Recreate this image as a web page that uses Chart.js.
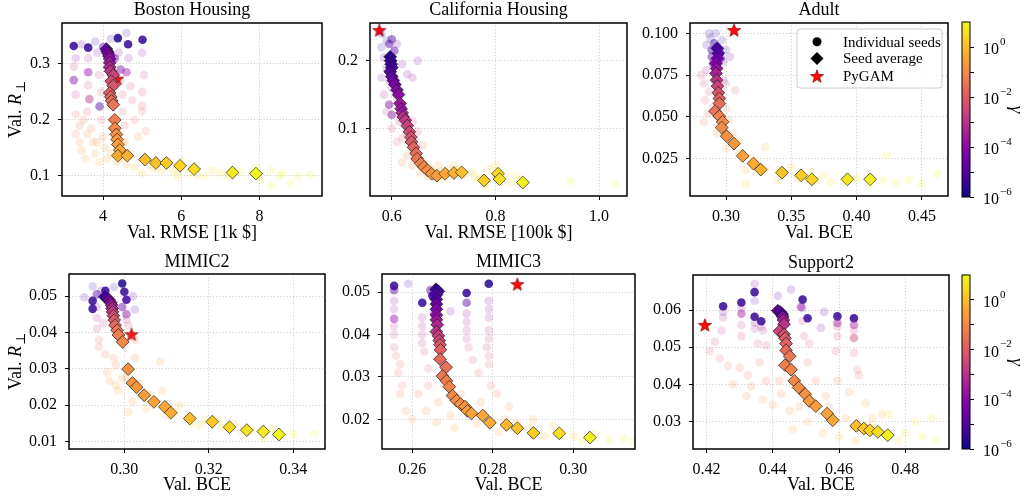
<!DOCTYPE html>
<html>
<head>
<meta charset="utf-8">
<script src="https://cdn.jsdelivr.net/npm/chart.js@4.4.1/dist/chart.umd.min.js"></script>
<style>
  body { margin: 0; background: #fff; width: 1026px; height: 496px; position: relative; overflow: hidden; }
  canvas { position: absolute; }
</style>
</head>
<body>
<canvas id="boston"></canvas>
<canvas id="california"></canvas>
<canvas id="adult"></canvas>
<canvas id="mimic2"></canvas>
<canvas id="mimic3"></canvas>
<canvas id="support2"></canvas>
<canvas id="cbTop"></canvas>
<canvas id="cbBottom"></canvas>
<script>
// ---- data: [x, y, log10(gamma)] ----

// Boston Housing
var bostonSeeds = [
  [3.3,0.31,-4],[3.25,0.295,-2.8],[3.3,0.245,-3.2],[3.3,0.21,-2],[3.3,0.175,-1.2],[3.4,0.16,-0.9],[3.45,0.145,-0.6],[3.55,0.13,-0.4],
  [3.62,0.31,-3.5],[3.62,0.262,-2.7],[3.6,0.215,-2.2],[3.7,0.185,-1.3],[3.75,0.16,-0.9],[3.8,0.14,-0.6],[3.9,0.125,-0.3],
  [3.85,0.32,-4.2],[3.9,0.28,-3],[3.95,0.25,-2.5],[3.95,0.2,-1.8],[4.0,0.17,-1.2],[4.05,0.15,-0.8],[4.1,0.13,-0.5],
  [4.4,0.32,-4.6],[4.45,0.27,-2.8],[4.5,0.245,-2.3],[4.5,0.215,-1.9],[4.55,0.19,-1.4],[4.5,0.16,-0.8],[4.45,0.13,-0.4],
  [4.65,0.31,-4.0],[4.7,0.26,-2.5],[4.75,0.235,-2.2],[4.8,0.2,-1.6],[4.9,0.17,-1.0],
  [5.0,0.32,-4.2],[5.05,0.28,-3],[5.0,0.25,-2.6],[5.0,0.225,-2.2],[5.0,0.215,-1.8],[5.1,0.18,-1.2],
  [4.8,0.115,0],[5.2,0.12,0.1],[5.5,0.11,0.2],[5.8,0.108,0.3],[6.2,0.105,0.5],[6.6,0.1,0.6],[7.0,0.105,0.7],[7.5,0.108,0.8],
  [7.9,0.115,0.9],[8.3,0.11,1],[8.3,0.082,1],[8.8,0.087,1],[9.3,0.102,1],[8.6,0.104,0.9],[6.0,0.125,0.4],[6.4,0.102,0.55],
  [3.45,0.335,-5],[3.8,0.34,-5.2],[4.6,0.355,-5.3],[4.2,0.345,-5],[3.5,0.2,-1.6],[3.6,0.175,-1.1],[3.85,0.16,-0.8],
  [4.2,0.14,-0.5],[4.35,0.125,-0.2],[4.6,0.12,-0.1],[5.0,0.105,0.1],[5.3,0.113,0.15],[5.9,0.1,0.35],[6.8,0.11,0.65],
  [7.2,0.098,0.7],[8.0,0.095,0.9],[8.5,0.1,1],[9.0,0.1,1],[3.4,0.19,-1.4],[4.25,0.2,-1.5],[4.55,0.16,-0.9]
];
var bostonSeedsDense = [
  [3.25,0.271,-4.3],[3.62,0.285,-4],[3.91,0.224,-5.2],[4.45,0.29,-4.2],[4.6,0.285,-3.5],[3.65,0.237,-3],[4.0,0.33,-4.6],[4.3,0.31,-4.5]
];
var bostonSeedsSolid = [
  [3.25,0.332,-5.5],[3.62,0.329,-5.5],[4.38,0.346,-5.8],[4.64,0.335,-5.5],[5.01,0.343,-5.5]
];
var bostonAvg = [
  [4.085,0.3265,-5.0],[4.11,0.322,-4.7],[4.13,0.319,-4.4],[4.15,0.314,-4.1],[4.17,0.309,-3.8],[4.17,0.302,-3.5],
  [4.17,0.294,-3.2],[4.19,0.287,-2.9],[4.26,0.280,-2.6],[4.21,0.269,-2.3],[4.26,0.261,-2.1],[4.17,0.248,-1.9],
  [4.20,0.241,-1.7],[4.22,0.234,-1.55],[4.26,0.227,-1.4],[4.30,0.200,-1.2],[4.30,0.185,-1.0],[4.34,0.174,-0.85],
  [4.36,0.165,-0.7],[4.38,0.156,-0.55],[4.43,0.146,-0.4],[4.38,0.136,-0.3],[4.62,0.136,-0.2],[5.07,0.129,0.0],
  [5.35,0.123,0.1],[5.62,0.123,0.25],[5.97,0.118,0.4],[6.33,0.112,0.55],[7.31,0.106,0.75],[7.91,0.104,0.95]
];
var bostonPyGAM = [4.36, 0.2735];
var bostonXRange = [2.95, 9.6], bostonYRange = [0.064, 0.373];
var bostonXTicks = ['4', '6', '8'], bostonYTicks = ['0.1', '0.2', '0.3'];

// California Housing
var californiaSeeds = [
  [0.58,0.24,-5.2],[0.59,0.23,-5.5],[0.61,0.225,-4.8],[0.585,0.205,-4.6],[0.62,0.195,-4.2],[0.63,0.18,-4],[0.65,0.2,-4.3],
  [0.64,0.175,-3.8],[0.58,0.175,-4],[0.585,0.15,-3.5],[0.59,0.125,-3],[0.6,0.1,-2.6],[0.61,0.08,-2],[0.62,0.085,-2.2],
  [0.64,0.11,-2.8],[0.65,0.095,-2.5],[0.66,0.075,-1.7],[0.63,0.06,-1.3],[0.62,0.05,-1],[0.64,0.045,-0.9],[0.655,0.035,-0.7],
  [0.67,0.028,-0.5],[0.69,0.045,-0.3],[0.71,0.04,-0.2],[0.72,0.045,-0.1],[0.74,0.03,0.1],[0.76,0.028,0.3],[0.79,0.04,0.4],
  [0.8,0.045,0.5],[0.82,0.03,0.6],[0.83,0.02,0.7],[0.85,0.025,0.8],[0.78,0.015,0.5],[0.945,0.022,1],[1.03,0.018,1],
  [0.7,0.025,-0.1],[0.61,0.145,-3.6],[0.6,0.16,-3.8],
  [0.59,0.19,-5],[0.6,0.205,-5.3],[0.58,0.22,-5.4],[0.595,0.17,-4.5],[0.615,0.11,-2.9],[0.63,0.09,-2.3],[0.645,0.06,-1.5],
  [0.66,0.05,-1.1],[0.675,0.04,-0.7],[0.68,0.032,-0.5],[0.695,0.036,-0.3],[0.73,0.04,0],[0.755,0.035,0.2],[0.77,0.025,0.3],
  [0.81,0.02,0.6],[0.84,0.03,0.75]
];
var californiaSeedsDense = [
  [0.595,0.135,-4.3],[0.6,0.12,-4],[0.595,0.225,-5],[0.605,0.215,-5],[0.6,0.232,-5.3],[0.62,0.13,-4.3]
];
var californiaSeedsSolid = [];
var californiaAvg = [
  [0.597,0.206,-5.8],[0.598,0.200,-5.6],[0.599,0.195,-5.4],[0.600,0.190,-5.2],[0.597,0.184,-5.0],[0.600,0.177,-4.8],
  [0.603,0.171,-4.6],[0.606,0.165,-4.4],[0.610,0.157,-4.2],[0.613,0.150,-4.0],[0.616,0.137,-3.6],[0.618,0.129,-3.4],
  [0.620,0.123,-3.2],[0.622,0.117,-3.0],[0.626,0.112,-2.8],[0.630,0.104,-2.6],[0.634,0.095,-2.4],[0.637,0.087,-2.2],
  [0.638,0.080,-2.0],[0.642,0.072,-1.8],[0.647,0.063,-1.6],[0.649,0.055,-1.4],[0.656,0.048,-1.2],[0.662,0.043,-1.0],
  [0.669,0.038,-0.9],[0.677,0.033,-0.8],[0.687,0.030,-0.6],[0.703,0.033,-0.4],[0.720,0.034,-0.2],[0.735,0.035,0.0],
  [0.778,0.023,0.3],[0.805,0.033,0.5],[0.808,0.025,0.6],[0.853,0.020,0.9]
];
var californiaPyGAM = [0.576, 0.2455];
var californiaXRange = [0.558, 1.054], californiaYRange = [0.0, 0.256];
var californiaXTicks = ['0.6', '0.8', '1.0'], californiaYTicks = ['0.1', '0.2'];

// Adult
var adultSeeds = [
  [0.287,0.1,-5.5],[0.288,0.097,-5.5],[0.297,0.096,-5.2],[0.3,0.09,-5],[0.303,0.086,-4.6],[0.285,0.078,-3.5],[0.281,0.075,-2.8],
  [0.283,0.07,-2.5],[0.298,0.072,-3],[0.3,0.07,-2.5],[0.307,0.066,-2],[0.284,0.06,-1.8],[0.286,0.052,-1.5],[0.283,0.047,-1.2],
  [0.3,0.055,-1.5],[0.302,0.048,-1],[0.293,0.04,-0.8],[0.3,0.031,-0.5],[0.31,0.035,-0.4],[0.33,0.032,-0.2],[0.32,0.025,-0.2],
  [0.315,0.018,0],[0.33,0.019,0.1],[0.34,0.017,0.2],[0.35,0.02,0.3],[0.36,0.014,0.4],[0.37,0.012,0.5],[0.375,0.015,0.5],
  [0.38,0.011,0.6],[0.4,0.013,0.7],[0.41,0.01,0.8],[0.42,0.012,0.85],[0.423,0.027,0.9],[0.43,0.011,0.9],[0.45,0.01,1],
  [0.462,0.016,1],[0.315,0.01,0.2],
  [0.285,0.093,-5.3],[0.292,0.1,-5.5],[0.298,0.083,-4.3],[0.287,0.065,-2.2],[0.296,0.066,-2.3],[0.29,0.056,-1.7],
  [0.296,0.045,-1],[0.305,0.04,-0.7],[0.31,0.028,-0.45],[0.322,0.02,-0.2],[0.34,0.012,0.2],[0.355,0.013,0.35],
  [0.365,0.017,0.45],[0.39,0.011,0.65],[0.44,0.012,0.95]
];
var adultSeedsDense = [
  [0.289,0.09,-5.3],[0.291,0.094,-5.5],[0.293,0.092,-5],[0.295,0.089,-4.8],[0.289,0.086,-4.5],[0.296,0.085,-4.6],[0.29,0.082,-4.2]
];
var adultSeedsSolid = [];
var adultAvg = [
  [0.2934,0.091,-5.3],[0.2941,0.088,-5.0],[0.2934,0.085,-4.6],[0.2923,0.082,-4.2],[0.2928,0.079,-3.8],[0.2923,0.076,-3.4],
  [0.2928,0.072,-3.0],[0.2934,0.0684,-2.6],[0.2941,0.0644,-2.2],[0.2949,0.061,-1.9],[0.2949,0.058,-1.6],[0.2916,0.0534,-1.4],
  [0.2949,0.0504,-1.2],[0.2974,0.047,-1.0],[0.2967,0.0436,-0.9],[0.3005,0.0384,-0.8],[0.3061,0.034,-0.7],[0.3128,0.0266,-0.5],
  [0.3210,0.022,-0.3],[0.3266,0.0184,-0.2],[0.3429,0.0166,0.1],[0.3575,0.015,0.3],[0.3657,0.0126,0.4],[0.3930,0.0126,0.7],
  [0.4104,0.0126,0.9]
];
var adultPyGAM = [0.3061, 0.102];
var adultXRange = [0.2724, 0.470], adultYRange = [0.0026, 0.1062];
var adultXTicks = ['0.30', '0.35', '0.40', '0.45'], adultYTicks = ['0.025', '0.050', '0.075', '0.100'];

// MIMIC2
var mimic2Seeds = [
  [0.2905,0.0497,-5],[0.2925,0.0527,-5.2],[0.3025,0.0463,-5],[0.2935,0.044,-3.2],[0.2935,0.041,-2.5],[0.294,0.038,-1.8],
  [0.294,0.036,-1.5],[0.2955,0.034,-1.2],[0.301,0.042,-2.5],[0.3015,0.039,-2],[0.3025,0.038,-1.5],[0.3025,0.033,-1],
  [0.3085,0.032,-0.8],[0.298,0.031,-1],[0.2965,0.0265,-0.7],[0.298,0.0255,-0.6],[0.2985,0.024,-0.5],[0.302,0.021,-0.4],
  [0.301,0.018,-0.3],[0.305,0.019,-0.2],[0.306,0.023,-0.4],[0.309,0.024,-0.3],[0.31,0.017,-0.1],[0.313,0.02,0],
  [0.316,0.015,0.2],[0.319,0.016,0.3],[0.323,0.014,0.4],[0.326,0.015,0.5],[0.33,0.013,0.6],[0.333,0.011,0.7],
  [0.337,0.012,0.8],[0.34,0.012,0.9],[0.345,0.0123,1],[0.296,0.029,-0.9],[0.2995,0.0275,-0.8],
  [0.2945,0.0515,-5],[0.2975,0.0525,-5.3],[0.302,0.05,-5],[0.2935,0.047,-4],[0.295,0.0425,-2.8],[0.3005,0.0435,-3],
  [0.3,0.0365,-1.2],[0.2975,0.033,-1.1],[0.3005,0.0275,-0.8],[0.3035,0.026,-0.7],[0.307,0.02,-0.4],[0.312,0.018,-0.2],
  [0.318,0.0145,0.2],[0.322,0.016,0.35],[0.328,0.0125,0.55],[0.335,0.0135,0.85]
];
var mimic2SeedsDense = [[0.3005,0.045,-4],[0.2995,0.047,-4.5],[0.2935,0.0505,-5]];
var mimic2SeedsSolid = [
  [0.2925,0.0465,-5.5],[0.2925,0.0487,-5.5],[0.2955,0.0515,-5.5],[0.2995,0.0535,-5.8],[0.3,0.0512,-5.5],[0.3005,0.049,-5.3]
];
var mimic2Avg = [
  [0.2954,0.0498,-5.5],[0.2960,0.0494,-5.0],[0.2964,0.0489,-4.5],[0.2968,0.0482,-4.0],[0.2970,0.0475,-3.6],[0.2971,0.0466,-3.2],
  [0.2972,0.0457,-2.8],[0.2974,0.0446,-2.4],[0.2976,0.0434,-2.0],[0.2978,0.0420,-1.7],[0.2983,0.0406,-1.4],[0.2986,0.0393,-1.2],
  [0.2996,0.0374,-1.0],[0.3009,0.0299,-0.9],[0.3019,0.0261,-0.8],[0.3029,0.0249,-0.7],[0.3047,0.0227,-0.6],[0.3070,0.0209,-0.5],
  [0.3096,0.0195,-0.4],[0.3110,0.0179,-0.3],[0.3155,0.0163,0.0],[0.3208,0.0154,0.2],[0.3249,0.0139,0.4],[0.3290,0.0131,0.6],
  [0.3329,0.0127,0.8],[0.3366,0.0119,1.0]
];
var mimic2PyGAM = [0.3017, 0.0395];
var mimic2XRange = [0.2869, 0.3475], mimic2YRange = [0.0079, 0.0561];
var mimic2XTicks = ['0.30', '0.32', '0.34'], mimic2YTicks = ['0.01', '0.02', '0.03', '0.04', '0.05'];

// MIMIC3
var mimic3Seeds = [
  [0.259,0.052,-5.2],[0.2555,0.048,-4],[0.2555,0.046,-3.5],[0.2555,0.04,-2.8],[0.2555,0.037,-2.3],[0.256,0.035,-2],
  [0.2565,0.031,-1.5],[0.2575,0.028,-1.2],[0.257,0.026,-1.1],[0.2585,0.022,-0.8],[0.2625,0.044,-3.5],[0.2625,0.04,-3],
  [0.263,0.036,-2.5],[0.264,0.032,-2],[0.264,0.028,-1.5],[0.2665,0.024,-1],[0.2735,0.045,-4],[0.2735,0.041,-3.2],
  [0.274,0.037,-2.6],[0.275,0.034,-2.2],[0.2765,0.031,-1.8],[0.279,0.048,-4.5],[0.279,0.044,-3.5],[0.279,0.041,-3],
  [0.2785,0.037,-2.5],[0.279,0.033,-2],[0.2795,0.028,-1.5],[0.281,0.026,-1.2],[0.284,0.023,-0.9],[0.2695,0.021,-0.8],
  [0.2705,0.018,-0.5],[0.276,0.019,-0.4],[0.2815,0.017,-0.2],[0.286,0.019,-0.2],[0.29,0.02,-0.3],[0.293,0.016,0],
  [0.297,0.017,0.3],[0.3,0.016,0.5],[0.305,0.0165,0.6],[0.309,0.0152,0.8],[0.3125,0.0155,0.9],[0.315,0.0148,1],
  [0.2695,0.0455,-4.5],[0.26,0.02,-0.6],[0.266,0.0193,-0.6],
  [0.2555,0.042,-3.2],[0.2625,0.042,-3.3],[0.2625,0.038,-2.8],[0.2735,0.043,-3.5],[0.2735,0.039,-3],[0.279,0.046,-4],
  [0.279,0.039,-2.8],[0.279,0.035,-2.2],[0.2615,0.026,-1.2],[0.2635,0.022,-0.9],[0.268,0.028,-1.3],[0.272,0.026,-1.1],
  [0.277,0.024,-0.8],[0.283,0.02,-0.4],[0.289,0.018,-0.1],[0.295,0.0185,0.1],[0.302,0.015,0.6],[0.257,0.033,-1.8]
];
var mimic3SeedsDense = [[0.2555,0.0505,-5],[0.2735,0.0475,-5],[0.2645,0.0505,-5],[0.2555,0.0437,-3.8],[0.2655,0.045,-4.2]];
var mimic3SeedsSolid = [[0.2555,0.0515,-5.5],[0.2625,0.0475,-5.5],[0.2735,0.0498,-5.5],[0.279,0.052,-5.7],[0.265,0.0492,-5.3]];
var mimic3Avg = [
  [0.2659,0.0507,-5.7],[0.2665,0.0502,-5.4],[0.2660,0.0494,-5.1],[0.2660,0.0483,-4.8],[0.2660,0.0472,-4.5],[0.2660,0.0460,-4.2],
  [0.2660,0.0446,-3.9],[0.2660,0.0435,-3.6],[0.2662,0.0423,-3.3],[0.2660,0.0407,-3.0],[0.2665,0.0397,-2.7],[0.2667,0.0386,-2.4],
  [0.2669,0.0376,-2.1],[0.2670,0.0364,-1.9],[0.2669,0.0342,-1.7],[0.2684,0.0323,-1.5],[0.2675,0.0302,-1.3],[0.2685,0.0291,-1.2],
  [0.2692,0.0277,-1.1],[0.2700,0.0256,-1.0],[0.2710,0.0244,-0.9],[0.2720,0.0236,-0.8],[0.2731,0.0230,-0.7],[0.2737,0.0220,-0.6],
  [0.2747,0.0214,-0.5],[0.2775,0.0209,-0.4],[0.2793,0.0192,-0.3],[0.2834,0.0187,-0.1],[0.2861,0.0179,0.1],[0.2901,0.0168,0.3],
  [0.2965,0.0167,0.6],[0.3041,0.0157,0.9]
];
var mimic3PyGAM = [0.2861, 0.0519];
var mimic3XRange = [0.2525, 0.3153], mimic3YRange = [0.013, 0.0543];
var mimic3XTicks = ['0.26', '0.28', '0.30'], mimic3YTicks = ['0.02', '0.03', '0.04', '0.05'];

// Support2
var support2Seeds = [
  [0.4415,0.0638,-5],[0.4555,0.0595,-5],[0.4545,0.0552,-4.5],[0.4345,0.067,-4.5],[0.4455,0.0655,-4.5],[0.425,0.058,-3.5],
  [0.4245,0.0545,-3],[0.4225,0.0515,-2.5],[0.421,0.049,-2],[0.4305,0.056,-3],[0.4305,0.053,-2.6],[0.4345,0.055,-3],
  [0.4355,0.051,-2.6],[0.437,0.0545,-3],[0.438,0.0505,-2.4],[0.449,0.057,-3],[0.4495,0.053,-2.6],[0.451,0.051,-2.3],
  [0.4595,0.053,-2.6],[0.459,0.049,-2.2],[0.4645,0.0485,-2.2],[0.4655,0.044,-1.8],[0.466,0.0425,-1.6],[0.4265,0.045,-1.5],
  [0.428,0.04,-1.2],[0.432,0.037,-1.0],[0.4325,0.0425,-1.4],[0.436,0.046,-1.7],[0.438,0.041,-1.5],[0.44,0.0345,-0.8],
  [0.445,0.033,-0.7],[0.4505,0.046,-1.8],[0.453,0.041,-1.4],[0.456,0.037,-1.1],[0.4595,0.041,-1.3],[0.463,0.038,-1.0],
  [0.468,0.035,-0.6],[0.473,0.032,-0.4],[0.4505,0.03,-0.5],[0.455,0.027,-0.3],[0.46,0.026,-0.1],[0.465,0.025,0],
  [0.47,0.029,0.1],[0.475,0.032,0.3],[0.48,0.027,0.5],[0.483,0.03,0.6],[0.488,0.031,0.8],[0.489,0.025,1],[0.478,0.025,0.7],
  [0.446,0.028,-0.3],[0.442,0.041,-1.3],
  [0.425,0.0595,-4.5],[0.4305,0.0605,-4.5],[0.4345,0.0625,-4.5],[0.4345,0.0565,-4],[0.4365,0.0555,-3.8],[0.449,0.0605,-4.3],
  [0.4595,0.0555,-3],[0.4645,0.0545,-3],[0.424,0.047,-1.8],[0.43,0.0445,-1.6],[0.4335,0.0395,-1.2],[0.437,0.036,-0.9],
  [0.4425,0.0375,-1],[0.448,0.034,-0.7],[0.457,0.034,-0.8],[0.462,0.031,-0.5],[0.47,0.031,-0.2],[0.485,0.026,0.8]
];
var support2SeedsDense = [[0.4485,0.0608,-4],[0.4595,0.0565,-3.5],[0.4645,0.056,-3.5],[0.4645,0.0525,-2.5],[0.4305,0.059,-3.5]];
var support2SeedsSolid = [
  [0.425,0.061,-5.5],[0.4305,0.062,-5.5],[0.4345,0.0648,-5.5],[0.4345,0.0582,-5.5],[0.4365,0.057,-5.5],[0.449,0.0628,-5.5],
  [0.4505,0.0578,-5.5],[0.4595,0.0583,-5.5],[0.4645,0.0578,-5.5]
];
var support2Avg = [
  [0.4415,0.0598,-4.5],[0.4422,0.0595,-4.8],[0.4428,0.0589,-5.2],[0.4430,0.0582,-4.0],[0.4432,0.0573,-3.5],[0.4434,0.0562,-3.0],
  [0.4420,0.0543,-2.6],[0.4434,0.0535,-2.3],[0.4437,0.0524,-2.0],[0.4440,0.0510,-1.8],[0.4440,0.0492,-1.6],[0.4451,0.0476,-1.4],
  [0.4437,0.0452,-1.2],[0.4455,0.0440,-1.1],[0.4465,0.0410,-1.0],[0.4478,0.0392,-0.9],[0.4498,0.0374,-0.8],[0.4510,0.0356,-0.7],
  [0.4530,0.0342,-0.6],[0.4564,0.0322,-0.5],[0.4581,0.0304,-0.4],[0.4652,0.0289,0.0],[0.4675,0.0282,0.2],[0.4693,0.0277,0.4],
  [0.4717,0.0273,0.6],[0.4747,0.0264,0.9]
];
var support2PyGAM = [0.4195, 0.0560];
var support2XRange = [0.4159, 0.4932], support2YRange = [0.0227, 0.0694];
var support2XTicks = ['0.42', '0.44', '0.46', '0.48'], support2YTicks = ['0.03', '0.04', '0.05', '0.06'];

// colour bar (log10 gamma)
var gammaLogRange = [-6, 1];
var colorbarTickExps = [0, -1, -2, -3, -4, -5, -6];
var colorbarLabelExps = [0, -2, -4, -6];
var legendLabels = ['Individual seeds', 'Seed average', 'PyGAM'];

// ---- styling helpers ----
var SERIF = "'Liberation Serif', 'DejaVu Serif', 'Times New Roman', serif";
var GRID = '#c4c4c4';
var PLASMA = ['#0d0887', '#41049d', '#6a00a8', '#8f0da4', '#b12a90', '#cc4778', '#e16462', '#f2844b', '#fca636', '#fcce25', '#f0f921'];

function hexRgb(h) {
	return [parseInt(h.substr(1, 2), 16), parseInt(h.substr(3, 2), 16), parseInt(h.substr(5, 2), 16)];
}
var PLASMA_RGB = PLASMA.map(hexRgb);

function plasma(t, a) {
	t = Math.max(0, Math.min(1, t));
	var f = t * (PLASMA_RGB.length - 1);
	var i = Math.min(Math.floor(f), PLASMA_RGB.length - 2);
	var k = f - i, c0 = PLASMA_RGB[i], c1 = PLASMA_RGB[i + 1];
	var c = [0, 1, 2].map(function (j) { return Math.round(c0[j] + (c1[j] - c0[j]) * k); });
	return 'rgba(' + c[0] + ',' + c[1] + ',' + c[2] + ',' + a + ')';
}

function gNorm(lg) {
	return (lg - gammaLogRange[0]) / (gammaLogRange[1] - gammaLogRange[0]);
}

// red star marker (matplotlib '*')
function makeStar(r) {
	var c = document.createElement('canvas');
	var s = Math.ceil(r * 2 + 4);
	c.width = s; c.height = s;
	var g = c.getContext('2d');
	g.translate(s / 2, s / 2 + 0.7);
	g.beginPath();
	for (var i = 0; i < 10; i++) {
		var rr = i % 2 ? r * 0.42 : r;
		var a = -Math.PI / 2 + i * Math.PI / 5;
		g.lineTo(Math.cos(a) * rr, Math.sin(a) * rr);
	}
	g.closePath();
	g.fillStyle = '#ff0a0a';
	g.fill();
	g.lineWidth = 0.6;
	g.strokeStyle = '#6a0000';
	g.stroke();
	return c;
}
var STAR = makeStar(7);

// ---- plugins ----
var framePlugin = {
	id: 'frame',
	afterDraw: function (chart) {
		var a = chart.chartArea, ctx = chart.ctx;
		ctx.save();
		ctx.lineWidth = 1.5;
		ctx.strokeStyle = '#000';
		ctx.strokeRect(a.left, a.top, a.right - a.left, a.bottom - a.top);
		ctx.restore();
	}
};

// "Val. R⊥" with italic R and subscript
var yTitlePlugin = {
	id: 'yTitle',
	afterDraw: function (chart, args, opts) {
		if (!opts.show) return;
		var a = chart.chartArea, ctx = chart.ctx;
		var f1 = '18px ' + SERIF, f2 = 'italic 18px ' + SERIF, f3 = '13px ' + SERIF;
		ctx.save();
		ctx.translate(a.left - opts.offset, (a.top + a.bottom) / 2);
		ctx.rotate(-Math.PI / 2);
		ctx.fillStyle = '#000';
		ctx.textBaseline = 'alphabetic';
		ctx.font = f1; var w1 = ctx.measureText('Val. ').width;
		ctx.font = f2; var w2 = ctx.measureText('R').width;
		ctx.font = f3; var w3 = ctx.measureText('\u22A5').width;
		var x = -(w1 + w2 + 1 + w3) / 2, base = 6;
		ctx.font = f1; ctx.fillText('Val. ', x, base);
		ctx.font = f2; ctx.fillText('R', x + w1, base);
		ctx.font = f3; ctx.fillText('\u22A5', x + w1 + w2 + 1, base + 4);
		ctx.restore();
	}
};

// legend box inside the Adult panel
var boxLegendPlugin = {
	id: 'boxLegend',
	afterDatasetsDraw: function (chart, args, opts) {
		if (!opts.show) return;
		var a = chart.chartArea, ctx = chart.ctx;
		var w = 145, h = 59;
		var x0 = a.right - 6 - w, y0 = a.top + 6;
		ctx.save();
		ctx.beginPath();
		ctx.roundRect(x0, y0, w, h, 3);
		ctx.fillStyle = 'rgba(255,255,255,0.85)';
		ctx.fill();
		ctx.lineWidth = 1;
		ctx.strokeStyle = '#cccccc';
		ctx.stroke();
		var mx = x0 + 20, tx = x0 + 46;
		var rows = [y0 + 12.7, y0 + 29.5, y0 + 47];
		ctx.fillStyle = '#000';
		ctx.beginPath(); ctx.arc(mx, rows[0], 4.5, 0, Math.PI * 2); ctx.fill();
		ctx.beginPath();
		ctx.moveTo(mx, rows[1] - 6.5); ctx.lineTo(mx + 6.5, rows[1]); ctx.lineTo(mx, rows[1] + 6.5); ctx.lineTo(mx - 6.5, rows[1]);
		ctx.closePath(); ctx.fill();
		ctx.drawImage(STAR, mx - STAR.width / 2, rows[2] - STAR.height / 2);
		ctx.font = '15px ' + SERIF;
		ctx.textBaseline = 'middle';
		legendLabels.forEach(function (t, i) { ctx.fillText(t, tx, rows[i] + 1); });
		ctx.restore();
	}
};

// ---- panels ----
var panels = [
	{ id: 'boston', title: 'Boston Housing', xTitle: 'Val. RMSE [1k $]', yTitle: true, yTitleOffset: 47,
	  seeds: bostonSeeds, dense: bostonSeedsDense, solid: bostonSeedsSolid, avg: bostonAvg, pygam: bostonPyGAM,
	  xr: bostonXRange, yr: bostonYRange, xt: bostonXTicks, yt: bostonYTicks,
	  canvas: [0, 0, 350, 245], area: [62, 23, 322, 196], titleY: 9.5 },
	{ id: 'california', title: 'California Housing', xTitle: 'Val. RMSE [100k $]',
	  seeds: californiaSeeds, dense: californiaSeedsDense, solid: californiaSeedsSolid, avg: californiaAvg, pygam: californiaPyGAM,
	  xr: californiaXRange, yr: californiaYRange, xt: californiaXTicks, yt: californiaYTicks,
	  canvas: [320, 0, 335, 245], area: [370, 23, 627, 196], titleY: 9.5 },
	{ id: 'adult', title: 'Adult', xTitle: 'Val. BCE', legend: true,
	  seeds: adultSeeds, dense: adultSeedsDense, solid: adultSeedsSolid, avg: adultAvg, pygam: adultPyGAM,
	  xr: adultXRange, yr: adultYRange, xt: adultXTicks, yt: adultYTicks,
	  canvas: [635, 0, 335, 245], area: [690, 23, 948, 196], titleY: 9.5 },
	{ id: 'mimic2', title: 'MIMIC2', xTitle: 'Val. BCE', yTitle: true, yTitleOffset: 54,
	  seeds: mimic2Seeds, dense: mimic2SeedsDense, solid: mimic2SeedsSolid, avg: mimic2Avg, pygam: mimic2PyGAM,
	  xr: mimic2XRange, yr: mimic2YRange, xt: mimic2XTicks, yt: mimic2YTicks,
	  canvas: [0, 250, 353, 246], area: [69, 274, 325, 449], titleY: 262.3 },
	{ id: 'mimic3', title: 'MIMIC3', xTitle: 'Val. BCE',
	  seeds: mimic3Seeds, dense: mimic3SeedsDense, solid: mimic3SeedsSolid, avg: mimic3Avg, pygam: mimic3PyGAM,
	  xr: mimic3XRange, yr: mimic3YRange, xt: mimic3XTicks, yt: mimic3YTicks,
	  canvas: [330, 250, 333, 246], area: [382, 274, 635, 449], titleY: 262.3 },
	{ id: 'support2', title: 'Support2', xTitle: 'Val. BCE',
	  seeds: support2Seeds, dense: support2SeedsDense, solid: support2SeedsSolid, avg: support2Avg, pygam: support2PyGAM,
	  xr: support2XRange, yr: support2YRange, xt: support2XTicks, yt: support2YTicks,
	  canvas: [635, 250, 334, 246], area: [693, 275, 949, 449], titleY: 263 }
];

function placeCanvas(id, box) {
	var cv = document.getElementById(id);
	cv.width = box[2]; cv.height = box[3];
	cv.style.left = box[0] + 'px'; cv.style.top = box[1] + 'px';
	return cv;
}

function buildPanel(p) {
	var cv = placeCanvas(p.id, p.canvas);
	var cl = p.canvas[0], ct = p.canvas[1], cw = p.canvas[2], ch = p.canvas[3];
	var al = p.area[0], at = p.area[1], ar = p.area[2], ab = p.area[3];
	var lh = 18 * 1.1;
	var tTop = Math.max(0, p.titleY - ct - lh / 2);
	var tBottom = (at - ct) - lh - tTop;
	// x-axis label sits about 37px below the axis line
	var xTitleBottom = Math.max(0, (ct + ch) - ab - 37 - 18 * 1.2 / 2);
	var tickFont = { family: SERIF, size: 16 };

	var pts = function (arr) { return arr.map(function (d) { return { x: d[0], y: d[1] }; }); };
	var cols = function (arr, alpha) { return arr.map(function (d) { return plasma(gNorm(d[2]), alpha); }); };
	var seedSet = function (arr, alpha) {
		return { data: pts(arr), pointBackgroundColor: cols(arr, alpha), pointRadius: 4.3, pointBorderWidth: 0 };
	};

	new Chart(cv, {
		type: 'scatter',
		data: {
			datasets: [
				seedSet(p.seeds, 0.17),
				seedSet(p.dense, 0.45),
				seedSet(p.solid, 0.85),
				{
					data: pts(p.avg), pointStyle: 'rectRot', pointRadius: 6.4,
					pointBackgroundColor: cols(p.avg, 1), pointBorderColor: 'rgba(25,25,25,0.9)', pointBorderWidth: 0.8
				},
				{ data: [{ x: p.pygam[0], y: p.pygam[1] }], pointStyle: STAR, pointRadius: 7 }
			]
		},
		options: {
			responsive: false,
			animation: false,
			events: [],
			layout: { padding: { left: 0, right: (cl + cw) - ar, top: 0, bottom: 0 }, autoPadding: false },
			plugins: {
				legend: { display: false },
				tooltip: { enabled: false },
				title: {
					display: true, fullSize: false, text: p.title, color: '#000',
					font: { family: SERIF, size: 18, weight: 'normal', lineHeight: 1.1 },
					padding: { top: tTop, bottom: tBottom }
				},
				yTitle: { show: !!p.yTitle, offset: p.yTitleOffset || 0 },
				boxLegend: { show: !!p.legend }
			},
			scales: {
				x: {
					type: 'linear', min: p.xr[0], max: p.xr[1],
					afterBuildTicks: function (s) { s.ticks = p.xt.map(function (v) { return { value: parseFloat(v) }; }); },
					afterFit: function (s) { s.height = (ct + ch) - ab; },
					ticks: { font: tickFont, color: '#000', padding: 7, maxRotation: 0, autoSkip: false,
						callback: function (v, i) { return p.xt[i]; } },
					grid: { color: GRID, lineWidth: 0.8, tickLength: 4, tickColor: '#000', tickWidth: 1 },
					border: { display: false, dash: [1.2, 2] },
					title: { display: true, text: p.xTitle, color: '#000',
						font: { family: SERIF, size: 18, lineHeight: 1.2 }, padding: { top: 0, bottom: xTitleBottom } }
				},
				y: {
					type: 'linear', min: p.yr[0], max: p.yr[1],
					afterBuildTicks: function (s) { s.ticks = p.yt.map(function (v) { return { value: parseFloat(v) }; }); },
					afterFit: function (s) { s.width = al - cl; },
					ticks: { font: tickFont, color: '#000', padding: 8, autoSkip: false,
						callback: function (v, i) { return p.yt[i]; } },
					grid: { color: GRID, lineWidth: 0.8, tickLength: 4, tickColor: '#000', tickWidth: 1 },
					border: { display: false, dash: [1.2, 2] }
				}
			}
		},
		plugins: [framePlugin, yTitlePlugin, boxLegendPlugin]
	});
}

panels.forEach(buildPanel);

// ---- colour bars ----
var colorbarPlugin = {
	id: 'colorbar',
	beforeDraw: function (chart) {
		var a = chart.chartArea, ctx = chart.ctx, sc = chart.scales.y;
		var g = ctx.createLinearGradient(0, a.bottom, 0, a.top);
		for (var k = 0; k <= 40; k++) {
			var t = k / 40;
			var lg = gammaLogRange[0] + t * (gammaLogRange[1] - gammaLogRange[0]);
			var y = sc.getPixelForValue(Math.pow(10, lg));
			g.addColorStop(Math.max(0, Math.min(1, (a.bottom - y) / (a.bottom - a.top))), plasma(t, 1));
		}
		ctx.save();
		ctx.fillStyle = g;
		ctx.fillRect(a.left, a.top, a.right - a.left, a.bottom - a.top);
		ctx.restore();
	},
	afterDraw: function (chart) {
		var a = chart.chartArea, ctx = chart.ctx, sc = chart.scales.y;
		ctx.save();
		ctx.lineWidth = 1;
		ctx.strokeStyle = '#000';
		ctx.strokeRect(a.left, a.top, a.right - a.left, a.bottom - a.top);
		ctx.fillStyle = '#000';
		ctx.textBaseline = 'middle';
		colorbarLabelExps.forEach(function (e) {
			var y = sc.getPixelForValue(Math.pow(10, e));
			var x = a.right + 13;
			ctx.font = '16px ' + SERIF;
			ctx.fillText('10', x, y + 3);
			var w = ctx.measureText('10').width;
			ctx.font = '11px ' + SERIF;
			ctx.fillText(e === 0 ? '0' : '\u2212' + (-e), x + w + 1, y - 5);
		});
		ctx.translate(a.right + 46, (a.top + a.bottom) / 2);
		ctx.rotate(Math.PI / 2);
		ctx.font = 'italic 19px ' + SERIF;
		ctx.textAlign = 'center';
		ctx.fillText('\u03B3', 0, 0);
		ctx.restore();
	}
};

function buildColorbar(id, box, area) {
	var cv = placeCanvas(id, box);
	var cl = box[0], ct = box[1], cw = box[2], ch = box[3];
	new Chart(cv, {
		type: 'scatter',
		data: { datasets: [] },
		options: {
			responsive: false,
			animation: false,
			events: [],
			layout: { padding: { left: area[0] - cl, right: 0, top: area[1] - ct, bottom: (ct + ch) - area[3] }, autoPadding: false },
			plugins: { legend: { display: false }, tooltip: { enabled: false } },
			scales: {
				x: { display: false, min: 0, max: 1 },
				y: {
					type: 'logarithmic', position: 'right',
					min: Math.pow(10, gammaLogRange[0]), max: Math.pow(10, gammaLogRange[1]),
					afterBuildTicks: function (s) { s.ticks = colorbarTickExps.map(function (e) { return { value: Math.pow(10, e) }; }); },
					afterFit: function (s) { s.width = (cl + cw) - area[2]; },
					ticks: { display: false },
					grid: { drawOnChartArea: false, tickLength: 4, tickColor: '#000', tickWidth: 1 },
					border: { display: false }
				}
			}
		},
		plugins: [colorbarPlugin]
	});
}

buildColorbar('cbTop', [940, 0, 86, 243], [962, 22, 970, 197]);
buildColorbar('cbBottom', [940, 250, 86, 246], [962, 275, 970, 449]);
</script>
</body>
</html>
